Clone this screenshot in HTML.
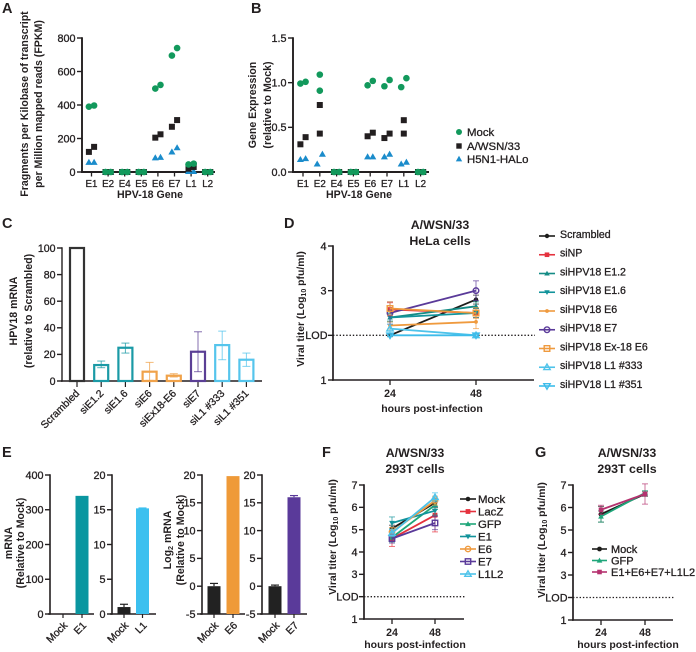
<!DOCTYPE html>
<html lang="en">
<head>
<meta charset="utf-8">
<title>HPV-18 gene expression figure</title>
<style>
html,body{margin:0;padding:0;background:#fff;width:696px;height:652px;overflow:hidden}
svg{display:block;filter:blur(.3px)}
text{font-family:"Liberation Sans",sans-serif;fill:#231f20}
.tick{stroke:#231f20;stroke-width:.3px}
.bold{font-weight:bold}
</style>
</head>
<body>
<svg id="figure" xmlns="http://www.w3.org/2000/svg" width="696" height="652" viewBox="0 0 696 652"></svg>
<script>
/* ---------- Panel A ---------- */
const genesA = ['E1','E2','E4','E5','E6','E7','L1','L2'];
const mockA = [[390,397],[0,0],[0,0],[0,0],[498,520],[695,740],[45,50],[0,0]];
const wsnA = [[120,150],[0,0],[0,0],[0,0],[205,225],[270,310],[20,30],[0,0]];
const h5n1A = [[58,58],[0,0],[0,0],[0,0],[85,88],[120,145],[3,3],[0,0]];
const ticksA = [0,200,400,600,800];
/* ---------- Panel B ---------- */
const genesB = ['E1','E2','E4','E5','E6','E7','L1','L2'];
const mockB = [[.99,1.01],[.91,1.09],[0,0],[0,0],[.97,1.02],[.96,1.03],[.95,1.05],[0,0]];
const wsnB = [[.31,.39],[.43,.75],[0,0],[0,0],[.40,.44],[.38,.43],[.43,.58],[0,0]];
const h5n1B = [[.14,.15],[.09,.20],[0,0],[0,0],[.17,.17],[.17,.20],[.09,.11],[0,0]];
const ticksB = ['0.0','0.5','1.0','1.5'];
/* ---------- Panel C ---------- */
const catsC = ['Scrambled','siE1.2','siE1.6','siE6','siEx18-E6','siE7','siL1 #333','siL1 #351'];
const valsC = [100,12,25,7,4,22,27,16];
const errLowC = [100,10,21,0.5,3,7,16,11];
const errHighC = [100,15,28.5,14,5.5,37,37.5,21];
const ticksC = [0,20,40,60,80,100];
/* ---------- Panel D ---------- */
const timepoints = [24,48];
const namesD = ['Scrambled','siNP','siHPV18 E1.2','siHPV18 E1.6','siHPV18 E6','siHPV18 E7','siHPV18 Ex-18 E6','siHPV18 L1 #333','siHPV18 L1 #351'];
const scrambledD = [2.0,2.8];
const siNPD = [2.58,2.5];
const e12D = [2.4,2.65];
const e16D = [2.4,2.5];
const e6D = [2.22,2.3];
const e7D = [2.5,3.0];
const ex18D = [2.6,2.5];
const l333D = [2.15,2.0];
const l351D = [2.0,2.0];
const errD = [[.03,.1],[.15,.1],[.1,.1],[.08,.1],[.08,.15],[.25,.22],[.15,.12],[.1,.03],[.03,.03]];
const ticksD = [1,3,4];
/* ---------- Panel E ---------- */
const valsE1 = [0,340];
const catsE1 = ['Mock','E1'];
const ticksE1 = [0,100,200,300,400];
const valsE2 = [1,15.2];
const errE2 = [.4,.05];
const catsE2 = ['Mock','L1'];
const ticksE2 = [0,5,10,15,20];
const valsE3 = [0,19.8];
const errE3 = [.5,0];
const catsE3 = ['Mock','E6'];
const ticksE3 = [-5,0,5,10,15,20];
const valsE4 = [0,16];
const errE4 = [.2,.3];
const catsE4 = ['Mock','E7'];
const ticksE4 = [-5,0,5,10,15,20];
/* ---------- Panel F ---------- */
const namesF = ['Mock','LacZ','GFP','E1','E6','E7','L1L2'];
const mockF = [5.05,6.2];
const lacZF = [4.6,5.65];
const gfpF = [4.65,6.1];
const e1F = [5.3,5.85];
const e6F = [4.9,6.3];
const e7F = [4.6,5.3];
const l1l2F = [4.85,6.45];
const errF = [[.15,.2],[.35,.75],[.2,.2],[.27,.2],[.2,.2],[.2,.3],[.15,.2]];
const ticksF = [1,3,4,5,6,7];
/* ---------- Panel G ---------- */
const namesG = ['Mock','GFP','E1+E6+E7+L1L2'];
const mockG = [5.7,6.6];
const gfpG = [5.6,6.65];
const comboG = [5.9,6.6];
const errG = [[.35,.1],[.25,.1],[.2,.45]];
const ticksG = [1,3,4,5,6,7];

const SVGNS = 'http://www.w3.org/2000/svg';
const root = document.getElementById('figure');
const INK = '#231f20';

function scale(d0,d1,p0,p1){ return v => p0 + (v-d0)*(p1-p0)/(d1-d0); }
function mk(tag,attrs,parent,name){
  const el = document.createElementNS(SVGNS,tag);
  for(const k in attrs) el.setAttribute(k,attrs[k]);
  
  
  (parent||root).appendChild(el);
  return el;
}
function group(name,parent){ return mk('g',{},parent,name); }
function line(x1,y1,x2,y2,color,w,parent,name,extra){
  return mk('line',Object.assign({x1,y1,x2,y2,stroke:color,'stroke-width':w},extra||{}),parent,name);
}
function label(x,y,s,size,opts,parent,name){
  opts=opts||{};
  const a={x,y,'font-size':size,'text-anchor':opts.anchor||'middle'};
  if(opts.cls) a['class']=opts.cls;
  if(opts.rotate!==undefined) a.transform='rotate('+opts.rotate+' '+x+' '+y+')';
  const t=mk('text',a,parent,name);
  t.textContent=s;
  return t;
}
function subLabel(x,y,a,sub,b,size,rotate,parent,name,cls){
  const t=mk('text',{x,y,'font-size':size,'text-anchor':'middle','class':cls||'bold',transform:'rotate('+rotate+' '+x+' '+y+')'},parent,name);
  t.appendChild(document.createTextNode(a));
  const s=document.createElementNS(SVGNS,'tspan');
  s.setAttribute('font-size',size*0.68);
  s.setAttribute('dy',2);
  s.textContent=sub;
  t.appendChild(s);
  const r=document.createElementNS(SVGNS,'tspan');
  r.setAttribute('dy',-2);
  r.textContent=b;
  t.appendChild(r);
  return t;
}
function marker(kind,x,y,r,color,parent,name,open){
  const sw=open?1.4:0;
  const fill=open?'none':color;
  const base={fill,stroke:open?color:'none','stroke-width':sw};
  if(kind==='circle') return mk('circle',Object.assign({cx:x,cy:y,r},base),parent,name);
  if(kind==='square') return mk('rect',Object.assign({x:x-r,y:y-r,width:2*r,height:2*r},base),parent,name);
  const pts = kind==='up'
    ? [[x,y-r*1.1],[x+r*1.1,y+r*.8],[x-r*1.1,y+r*.8]]
    : [[x,y+r*1.1],[x+r*1.1,y-r*.8],[x-r*1.1,y-r*.8]];
  return mk('polygon',Object.assign({points:pts.map(p=>p.join(',')).join(' ')},base),parent,name);
}
function yAxis(x,top,bottom,ticks,sy,g,size,w){
  line(x,top-.7,x,bottom+.7,INK,w||1.8,g,'y-axis-line');
  ticks.forEach(t=>{
    const y=sy(parseFloat(t));
    line(x-5,y,x,y,INK,1.4,g,'y-tick');
    label(x-6.5,y+3.8,String(t),size||10.8,{anchor:'end',cls:'tick'},g,'y-tick-label');
  });
}
function letter(s,x,y){ label(x,y,s,14.5,{anchor:'start',cls:'bold'},root,'panel-letter-'+s.toLowerCase()); }

/* ---------- scatter panels A, B ---------- */
function scatterPanel(id,cats,mock,wsn,h5,sy,x0,step,g){
  const sx=i=>x0+i*step;
  cats.forEach((c,i)=>{
    const px=sx(i);
    line(px,172,px,176.5,INK,1.3,g,'x-tick');
    label(px,187,c,9.8,{cls:'tick'},g,'x-tick-label');
  });
  function series(vals,kind,color,r,name){
    const sg=group(name+'-series',g);
    vals.forEach((pair,i)=>{
      const gap=Math.abs(sy(pair[0])-sy(pair[1]));
      const off=pair[0]===0&&pair[1]===0?2.6:(gap>12?0:2.6);
      marker(kind,sx(i)-off,sy(pair[0]),r,color,sg,name+'-point');
      marker(kind,sx(i)+off,sy(pair[1]),r,color,sg,name+'-point');
    });
  }
  series(h5,'up','#1b8ccb',3.2,'h5n1-halo');
  series(wsn,'square',INK,3,'a-wsn-33');
  series(mock,'circle','#12995c',3.3,'mock');
}

/* Panel A */
(function(){
  const g=group('panel-a-scatter');
  const sy=scale(0,800,172,38);
  yAxis(82,38,172,ticksA,sy,g,10.8,1.9);
  line(81,172,215,172,INK,1.9,g,'x-axis-line');
  scatterPanel('a',genesA,mockA,wsnA,h5n1A,sy,91.5,16.6,g);
  label(150,198,'HPV-18 Gene',10.6,{cls:'bold'},g,'x-axis-title');
  label(28,104,'Fragments per Kilobase of transcript',10.6,{cls:'bold',rotate:-90},g,'y-axis-title');
  label(42,104,'per Million mapped reads (FPKM)',10.6,{cls:'bold',rotate:-90},g,'y-axis-title-line-2');
})();

/* Panel B */
(function(){
  const g=group('panel-b-scatter');
  const sy=scale(0,1.5,172,38);
  yAxis(293,38,172,ticksB,sy,g,10.8,1.9);
  line(292,172,429,172,INK,1.9,g,'x-axis-line');
  scatterPanel('b',genesB,mockB,wsnB,h5n1B,sy,303,16.8,g);
  label(359,198,'HPV-18 Gene',10.6,{cls:'bold'},g,'x-axis-title');
  label(256,105,'Gene Expression',10.6,{cls:'bold',rotate:-90},g,'y-axis-title');
  label(271,105,'(relative to Mock)',10.6,{cls:'bold',rotate:-90},g,'y-axis-title-line-2');
  const lg=group('scatter-legend',g);
  marker('circle',459,132,3,'#12995c',lg,'legend-marker-mock');
  label(467,136,'Mock',11.4,{anchor:'start',cls:'tick'},lg,'legend-label-mock');
  marker('square',459,146,2.7,INK,lg,'legend-marker-a-wsn');
  label(467,150,'A/WSN/33',11.4,{anchor:'start',cls:'tick'},lg,'legend-label-a-wsn');
  marker('up',459,159,2.9,'#1b8ccb',lg,'legend-marker-h5n1');
  label(467,163,'H5N1-HALo',11.4,{anchor:'start',cls:'tick'},lg,'legend-label-h5n1');
})();

/* Panel C */
(function(){
  const g=group('panel-c-bars');
  const colors=['#333333','#1a9aa6','#1a9aa6','#f0a24a','#f0a24a','#5b3f95','#55c5ec','#55c5ec'];
  const sy=scale(0,100,381,248);
  yAxis(62,248,381,ticksC,sy,g,10.6,1.4);
  line(61,381,262,381,INK,1.4,g,'x-axis-line');
  const sx=i=>77+i*24.2;
  catsC.forEach((c,i)=>{
    const px=sx(i);
    line(px,381,px,387,INK,1.2,g,'x-tick');
    label(px+3,394,c,10.4,{anchor:'end',rotate:-45,cls:'tick'},g,'x-tick-label');
    const bg=group('bar-'+c.toLowerCase().replace(/[^a-z0-9]+/g,'-'),g);
    mk('rect',{x:px-7,y:sy(valsC[i]),width:14,height:381-sy(valsC[i]),fill:'none',stroke:colors[i],'stroke-width':2.2},bg,'bar-outline');
    if(errHighC[i]>errLowC[i]){
      line(px,sy(errLowC[i]),px,sy(errHighC[i]),colors[i],1,bg,'error-bar',{opacity:.75});
      line(px-4,sy(errHighC[i]),px+4,sy(errHighC[i]),colors[i],1,bg,'error-cap-high',{opacity:.75});
      line(px-4,sy(errLowC[i]),px+4,sy(errLowC[i]),colors[i],1,bg,'error-cap-low',{opacity:.75});
    }
  });
  label(17,311,'HPV18 mRNA',10.6,{cls:'bold',rotate:-90},g,'y-axis-title');
  label(32,311,'(relative to Scrambled)',10.6,{cls:'bold',rotate:-90},g,'y-axis-title-line-2');
})();

/* time-course helper */
function timeCourse(g,seriesList,errs,sx,sy,ms){
  seriesList.forEach((s,si)=>{
    const sg=group('series-'+s.name.toLowerCase().replace(/[^a-z0-9]+/g,'-'),g);
    const vals=s.vals;
    timepoints.forEach((t,i)=>{
      const px=sx(t), e=errs[si][i];
      line(px,sy(vals[i]-e),px,sy(vals[i]+e),s.color,.9,sg,'error-bar',{opacity:.75});
      line(px-3,sy(vals[i]+e),px+3,sy(vals[i]+e),s.color,.9,sg,'error-cap-high',{opacity:.75});
      line(px-3,sy(vals[i]-e),px+3,sy(vals[i]-e),s.color,.9,sg,'error-cap-low',{opacity:.75});
    });
    line(sx(timepoints[0]),sy(vals[0]),sx(timepoints[1]),sy(vals[1]),s.color,1.8,sg,'series-line');
    timepoints.forEach((t,i)=>{
      marker(s.kind,sx(t),sy(vals[i]),s.r||ms,s.color,sg,'series-point',s.open);
    });
  });
}
function lineLegend(g,items,xa,xb,xt,ys,size,dy){
  items.forEach((s,i)=>{
    const lg=group('legend-entry-'+s.name.toLowerCase().replace(/[^a-z0-9]+/g,'-'),g);
    line(xa,ys(i),xb,ys(i),s.color,1.6,lg,'legend-line');
    marker(s.kind,(xa+xb)/2,ys(i),s.r||2.4,s.color,lg,'legend-marker',s.open);
    label(xt,ys(i)+dy,s.name,size,{anchor:'start',cls:'tick'},lg,'legend-label');
  });
}
function timeAxes(g,axisX,top,bottom,endX,ticks,sy,sx,lodEnd,xLabelY,xTitleY,xTitleCx){
  yAxis(axisX,top,bottom,ticks,sy,g,10.8,1.7);
  const ly=sy(2);
  line(axisX-5,ly,axisX,ly,INK,1.4,g,'lod-tick');
  label(axisX-5.5,ly+3.8,'LOD',10.8,{anchor:'end',cls:'tick'},g,'lod-label');
  line(axisX,ly,lodEnd,ly,INK,1.3,g,'lod-dotted-line',{'stroke-dasharray':'1.4 1.9'});
  line(axisX-1,bottom,endX,bottom,INK,1.6,g,'x-axis-line');
  timepoints.forEach(t=>{
    line(sx(t),bottom,sx(t),bottom+5,INK,1.3,g,'x-tick');
    label(sx(t),xLabelY,String(t),10.6,{cls:'bold'},g,'x-tick-label');
  });
  label(xTitleCx,xTitleY,'hours post-infection',10.5,{cls:'bold'},g,'x-axis-title');
}

/* Panel D */
(function(){
  const g=group('panel-d-line-chart');
  const sy=scale(1,4,380,246);
  const sx=scale(24,48,390,476);
  timeAxes(g,333,246,380,534,ticksD,sy,sx,535,397,412,432);
  const list=[
    {name:namesD[0],vals:scrambledD,color:'#1d1d1b',kind:'circle',r:2.2},
    {name:namesD[1],vals:siNPD,color:'#e5323e',kind:'square',r:2.3},
    {name:namesD[2],vals:e12D,color:'#158c86',kind:'up',r:2.5},
    {name:namesD[3],vals:e16D,color:'#12939b',kind:'down',r:2.5},
    {name:namesD[4],vals:e6D,color:'#ef9a3e',kind:'circle',r:1.9},
    {name:namesD[5],vals:e7D,color:'#5a3a99',kind:'circle',r:2.8,open:true},
    {name:namesD[6],vals:ex18D,color:'#ef9a3e',kind:'square',r:2.8,open:true},
    {name:namesD[7],vals:l333D,color:'#4ec3ea',kind:'up',r:2.9,open:true},
    {name:namesD[8],vals:l351D,color:'#3dbcea',kind:'down',r:2.9,open:true}
  ];
  timeCourse(g,list,errD,sx,sy,2.4);
  label(440,229,'A/WSN/33',12.4,{cls:'bold'},g,'chart-title');
  label(440,245,'HeLa cells',12.4,{cls:'bold'},g,'chart-title-line-2');
  subLabel(304,309,'Viral titer (Log','10',' pfu/ml)',10.4,-90,g,'y-axis-title');
  lineLegend(g,list,539,555,560,i=>236+i*18.75,10.6,1.8);
})();

/* Panel E */
function miniBars(g,axisX,endX,cats,vals,errs,ticks,d0,cxs,colors){
  const sy=scale(d0,ticks[ticks.length-1],614,475);
  yAxis(axisX,475,614,ticks,sy,g,10.8,1.6);
  line(axisX-2,614,endX,614,INK,1.6,g,'x-axis-line');
  cats.forEach((c,i)=>{
    const px=cxs[i];
    line(px,614,px,618,INK,1.2,g,'x-tick');
    label(px+5,626,c,10.4,{anchor:'end',rotate:-45,cls:'tick'},g,'x-tick-label');
    const top=sy(vals[i]);
    if(Math.abs(614-top)>0 && !(d0===0 && vals[i]===0)){
      mk('rect',{x:px-6.5,y:top,width:13,height:614-top,fill:colors[i]},g,'bar-'+c.toLowerCase());
    }
    if(errs && errs[i]>0){
      line(px,sy(vals[i]+errs[i]),px,top,colors[i],1.2,g,'error-bar');
      line(px-4,sy(vals[i]+errs[i]),px+4,sy(vals[i]+errs[i]),colors[i],1.2,g,'error-cap');
    }
  });
}
(function(){
  const g1=group('panel-e-e1-bars');
  miniBars(g1,50,94,catsE1,valsE1,null,ticksE1,0,[63,82],['#222','#0a96a0']);
  label(12,543,'mRNA',10.6,{cls:'bold',rotate:-90},g1,'y-axis-title');
  label(24,543,'(Relative to Mock)',10.6,{cls:'bold',rotate:-90},g1,'y-axis-title-line-2');
  const g2=group('panel-e-l1-bars');
  miniBars(g2,112,156,catsE2,valsE2,errE2,ticksE2,0,[124,142.5],['#222','#3cc0ef']);
  const g3=group('panel-e-e6-bars');
  miniBars(g3,202,245,catsE3,valsE3,errE3,ticksE3,-5,[214,233],['#222','#ef9a38']);
  subLabel(171,540,'Log','2',' mRNA',10.6,-90,g3,'y-axis-title');
  label(184,540,'(Relative to Mock)',10.6,{cls:'bold',rotate:-90},g3,'y-axis-title-line-2');
  const g4=group('panel-e-e7-bars');
  miniBars(g4,262,307,catsE4,valsE4,errE4,ticksE4,-5,[275,294],['#222','#5a3a9a']);
})();

/* Panel F */
(function(){
  const g=group('panel-f-line-chart');
  const sy=scale(1,7,619,485);
  const sx=scale(24,48,392,435);
  timeAxes(g,364,485,619,464,ticksF,sy,sx,466,636,648,415);
  const list=[
    {name:namesF[0],vals:mockF,color:'#1d1d1b',kind:'circle',r:2.3},
    {name:namesF[1],vals:lacZF,color:'#e5323e',kind:'square',r:2.4},
    {name:namesF[2],vals:gfpF,color:'#1fa67a',kind:'up',r:2.6},
    {name:namesF[3],vals:e1F,color:'#12939b',kind:'down',r:2.6},
    {name:namesF[4],vals:e6F,color:'#ef9a3e',kind:'circle',r:2.7,open:true},
    {name:namesF[5],vals:e7F,color:'#5a3a99',kind:'square',r:2.7,open:true},
    {name:namesF[6],vals:l1l2F,color:'#4ec3ea',kind:'up',r:2.9,open:true}
  ];
  timeCourse(g,list,errF,sx,sy,2.4);
  label(415,457,'A/WSN/33',12.4,{cls:'bold'},g,'chart-title');
  label(415,473,'293T cells',12.4,{cls:'bold'},g,'chart-title-line-2');
  subLabel(336,537,'Viral titer (Log','10',' pfu/ml)',10.4,-90,g,'y-axis-title');
  lineLegend(g,list,460,476,478,i=>499+i*12.5,11.4,3.8);
})();

/* Panel G */
(function(){
  const g=group('panel-g-line-chart');
  const sy=scale(1,7,620,485);
  const sx=scale(24,48,601,645);
  timeAxes(g,573,485,620,673,ticksG,sy,sx,675,636,648,628);
  const list=[
    {name:namesG[0],vals:mockG,color:'#1d1d1b',kind:'circle',r:2.4},
    {name:namesG[1],vals:gfpG,color:'#1fa67a',kind:'up',r:2.6},
    {name:namesG[2],vals:comboG,color:'#b5326f',kind:'square',r:2.3}
  ];
  timeCourse(g,list,errG,sx,sy,2.4);
  label(627,457,'A/WSN/33',12.4,{cls:'bold'},g,'chart-title');
  label(627,473,'293T cells',12.4,{cls:'bold'},g,'chart-title-line-2');
  subLabel(545,540,'Viral titer (Log','10',' pfu/ml)',10.4,-90,g,'y-axis-title');
  lineLegend(g,list,592,607,611,i=>549+i*11.5,11,3.8);
})();

letter('A',2,13);
letter('B',251,13);
letter('C',2,228);
letter('D',284,228);
letter('E',2,457);
letter('F',322,457);
letter('G',535,457);
</script>
</body>
</html>
